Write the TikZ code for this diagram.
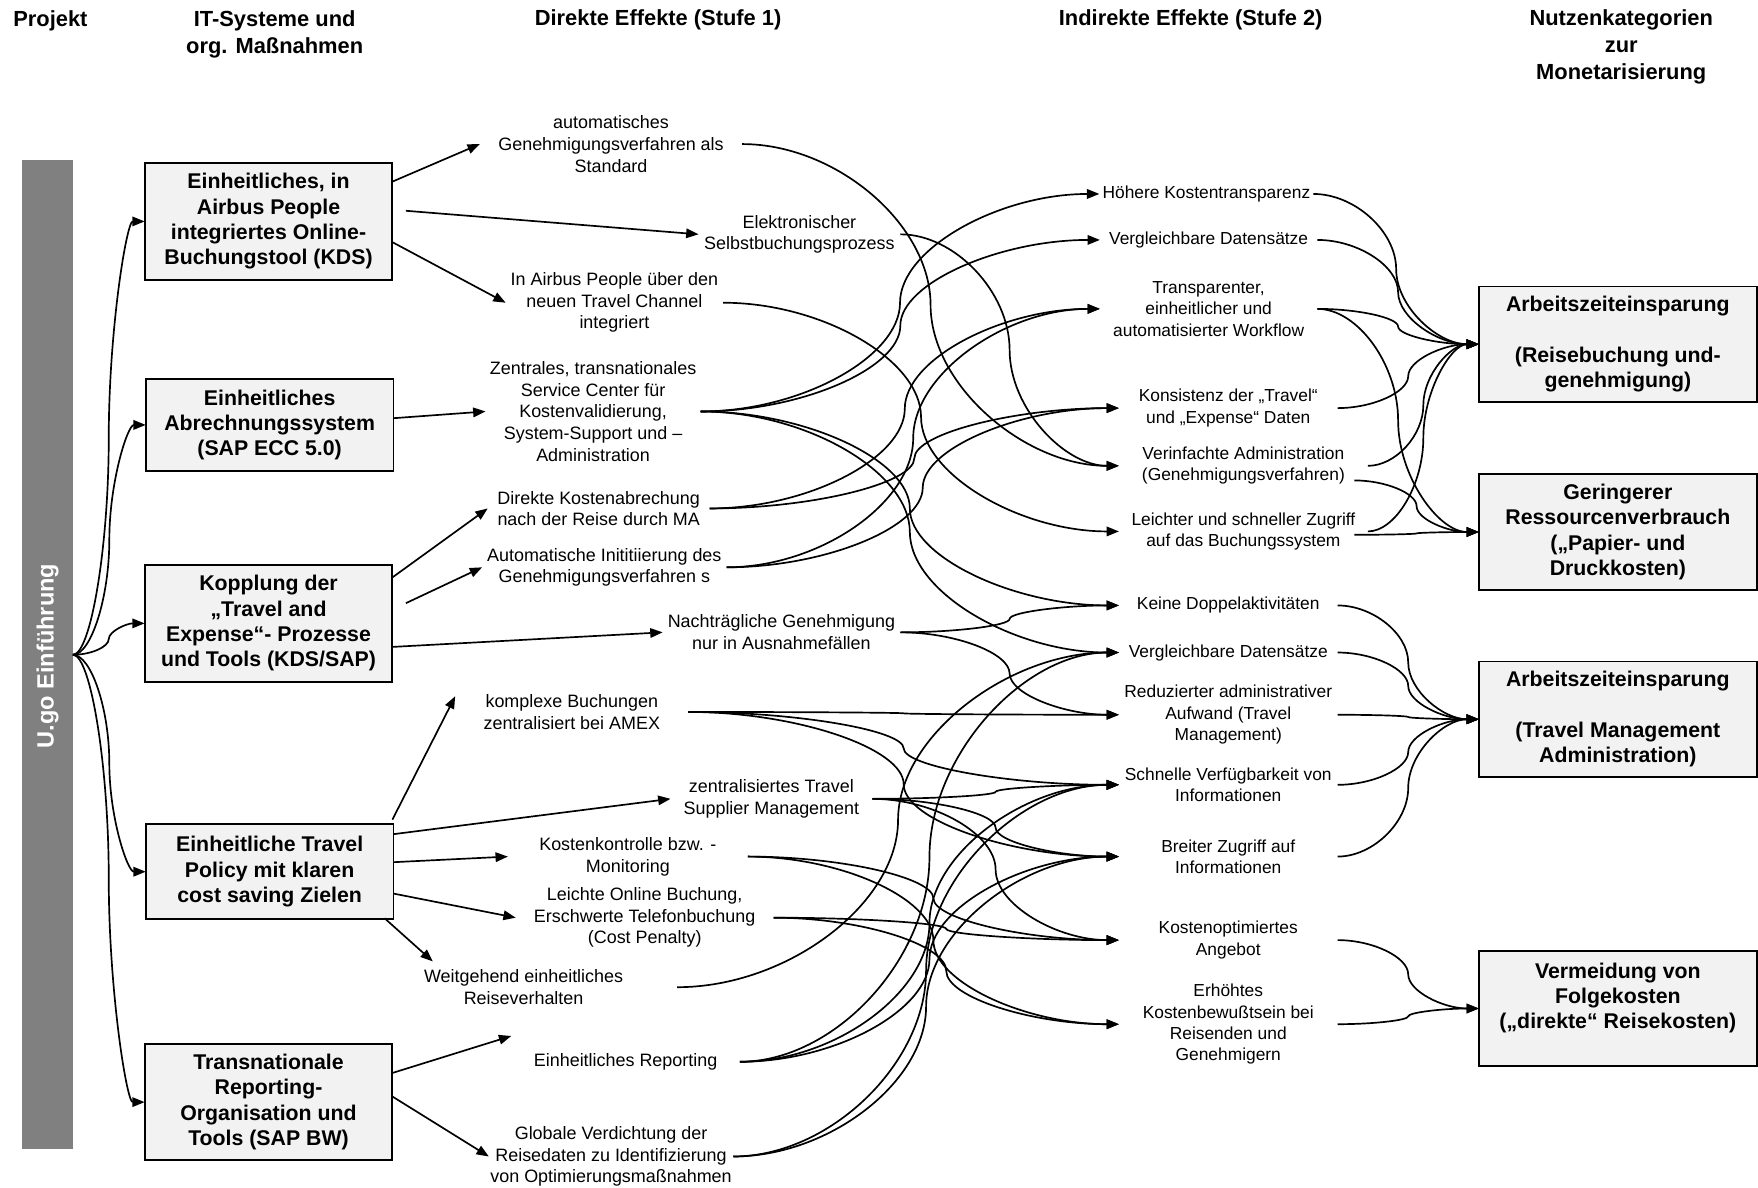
\documentclass[tikz,border=0pt]{standalone}
\usepackage{fontspec}
\setmainfont{Liberation Sans}
\usetikzlibrary{arrows.meta,calc}
\definecolor{boxgray}{HTML}{F2F2F2}
\definecolor{bargray}{HTML}{808080}
\begin{document}
\begin{tikzpicture}[x=1pt,y=-1pt,
  every node/.style={inner sep=0pt,outer sep=0pt},
  box/.style={draw=black,line width=1.7pt,fill=boxgray,align=center,
    minimum width=221pt,font=\fontsize{19}{22.6}\selectfont\bfseries},
  nbox/.style={draw=black,line width=1.7pt,fill=boxgray,align=center,
    minimum width=248pt,minimum height=103pt,font=\fontsize{19}{22.5}\selectfont\bfseries},
  dtxt/.style={align=center,font=\fontsize{16}{19.3}\selectfont},
  itxt/.style={align=center,font=\fontsize{15.5}{19}\selectfont},
  hdr/.style={align=center,font=\fontsize{19.5}{24}\selectfont\bfseries},
  con/.style={line width=1.5pt,-{Triangle[length=11pt,width=8.5pt]}},
  ppc/.style={to path={let \p1=(\tikztostart), \p2=(\tikztotarget) in
    .. controls ({(3*\x1+\x2)/4},\y1) and ({(\x1+\x2)/2},{(3*\y1+\y2)/4}) ..
    ({(\x1+\x2)/2},{(\y1+\y2)/2})
    .. controls ({(\x1+\x2)/2},{(\y1+3*\y2)/4}) and ({(\x1+3*\x2)/4},\y2) ..
    (\tikztotarget) \tikztonodes}},
]
\useasboundingbox (0,0) rectangle (1568,1059);

% headers
\node[hdr] (h1) at (45,19) {Projekt};
\node[hdr] (h2) at (245,31) {IT-Systeme und\\org. Maßnahmen};
\node[hdr] (h3) at (587,18) {Direkte Effekte (Stufe 1)};
\node[hdr] (h4) at (1062,18) {Indirekte Effekte (Stufe 2)};
\node[hdr] (h5) at (1446,42) {Nutzenkategorien\\zur\\Monetarisierung};

% project bar
\node[fill=bargray,minimum width=45pt,minimum height=882pt] (bar) at (42.5,584) {};
\node[rotate=90,text=white,font=\fontsize{21}{25}\selectfont\bfseries] (bartxt) at (42.5,585) {U.go Einführung};

% IT systems
\node[box,minimum height=105pt] (B1) at (239.5,197.5) {Einheitliches, in\\Airbus People\\integriertes Online-\\Buchungstool (KDS)};
\node[box,minimum height=82pt] (B2) at (240.5,379) {Einheitliches\\Abrechnungssystem\\(SAP ECC 5.0)};
\node[box,minimum height=104pt] (B3) at (239.5,556) {Kopplung der\\„Travel and\\Expense“- Prozesse\\und Tools (KDS/SAP)};
\node[box,minimum height=85pt] (B4) at (240.5,777.5) {Einheitliche Travel\\Policy mit klaren\\cost saving Zielen};
\node[box,minimum height=104pt] (B5) at (239.5,983) {Transnationale\\Reporting-\\Organisation und\\Tools (SAP BW)};

% direct effects
\node[dtxt,minimum width=234pt] (D1) at (545,128.5) {automatisches\\Genehmigungsverfahren als\\Standard};
\node[dtxt,minimum width=180pt] (D2) at (713,209) {Elektronischer\\Selbstbuchungsprozess};
\node[dtxt,minimum width=194pt] (D3) at (548,270) {In Airbus People über den\\neuen Travel Channel\\integriert};
\node[dtxt,minimum width=192pt] (D4) at (529,367) {Zentrales, transnationales\\Service Center für\\Kostenvalidierung,\\System-Support und –\\Administration};
\node[dtxt,minimum width=198pt] (D5) at (534,453.5) {Direkte Kostenabrechung\\nach der Reise durch MA};
\node[dtxt,minimum width=218pt] (D6) at (539,506) {Automatische Inititiierung des\\Genehmigungsverfahren s};
\node[dtxt,minimum width=212pt] (D7) at (697,564) {Nachträgliche Genehmigung\\nur in Ausnahmefällen};
\node[dtxt,minimum width=208pt] (D8) at (510,635) {komplexe Buchungen\\zentralisiert bei AMEX};
\node[dtxt,minimum width=180pt] (D9) at (688,712.5) {zentralisiertes Travel\\Supplier Management};
\node[dtxt,minimum width=214pt] (D10) at (560,764) {Kostenkontrolle bzw. -\\Monitoring};
\node[dtxt,minimum width=230pt] (D11) at (575,818.5) {Leichte Online Buchung,\\Erschwerte Telefonbuchung\\(Cost Penalty)};
\node[dtxt,minimum width=274pt] (D12) at (467,880.5) {Weitgehend einheitliches\\Reiseverhalten};
\node[dtxt,minimum width=204pt] (D13) at (558,947) {Einheitliches Reporting};
\node[dtxt,minimum width=218pt] (D14) at (545,1031.5) {Globale Verdichtung der\\Reisedaten zu Identifizierung\\von Optimierungsmaßnahmen};

% indirect effects
\node[itxt,minimum width=191pt] (I1) at (1076,173) {Höhere Kostentransparenz};
\node[itxt,minimum width=194pt] (I2) at (1078,214) {Vergleichbare Datensätze};
\node[itxt,minimum width=194pt] (I3) at (1078,275.5) {Transparenter,\\einheitlicher und\\automatisierter Workflow};
\node[itxt,minimum width=195pt] (I4) at (1095.5,364) {Konsistenz der „Travel“\\und „Expense“ Daten};
\node[itxt,minimum width=222pt] (I5) at (1109,415.5) {Verinfachte Administration\\(Genehmigungsverfahren)};
\node[itxt,minimum width=222pt] (I6) at (1109,474) {Leichter und schneller Zugriff\\auf das Buchungssystem};
\node[itxt,minimum width=195pt] (I7) at (1095.5,540) {Keine Doppelaktivitäten};
\node[itxt,minimum width=195pt] (I8) at (1095.5,582) {Vergleichbare Datensätze};
\node[itxt,minimum width=195pt] (I9) at (1095.5,637.5) {Reduzierter administrativer\\Aufwand (Travel\\Management)};
\node[itxt,minimum width=195pt] (I10) at (1095.5,700) {Schnelle Verfügbarkeit von\\Informationen};
\node[itxt,minimum width=195pt] (I11) at (1095.5,764) {Breiter Zugriff auf\\Informationen};
\node[itxt,minimum width=195pt] (I12) at (1095.5,838.5) {Kostenoptimiertes\\Angebot};
\node[itxt,minimum width=195pt] (I13) at (1095.5,913.5) {Erhöhtes\\Kostenbewußtsein bei\\Reisenden und\\Genehmigern};

% benefit categories
\node[nbox] (N1) at (1443,307) {Arbeitszeiteinsparung\\\mbox{}\\(Reisebuchung und-\\genehmigung)};
\node[nbox] (N2) at (1443,474.5) {Geringerer\\Ressourcenverbrauch\\(„Papier- und\\Druckkosten)};
\node[nbox] (N3) at (1443,641.5) {Arbeitszeiteinsparung\\\mbox{}\\(Travel Management\\Administration)};
\node[nbox] (N4) at (1443,899.5) {Vermeidung von\\Folgekosten\\(„direkte“ Reisekosten)\\\mbox{}};

% bar -> systems
\foreach \b in {B1,B2,B3,B4,B5}
  \draw[con] (bar.east) to[ppc] (\b.west);

% systems -> direct effects
\draw[con] ([yshift=35.5pt]B1.east) -- (D1.west);
\draw[con] ([xshift=12pt,yshift=9.5pt]B1.east) -- (D2.west);
\draw[con] ([yshift=-18.5pt]B1.east) -- (D3.west);
\draw[con] ([yshift=6pt]B2.east) -- (D4.west);
\draw[con] ([yshift=41pt]B3.east) -- (D5.west);
\draw[con] ([xshift=12pt,yshift=18pt]B3.east) -- (D6.west);
\draw[con] ([yshift=-21pt]B3.east) -- (D7.west);
\draw[con] ([xshift=-1pt,yshift=4pt]B4.north east) -- ([yshift=14pt]D8.west);
\draw[con] ([yshift=33.5pt]B4.east) -- (D9.west);
\draw[con] ([yshift=8.5pt]B4.east) -- (D10.west);
\draw[con] ([yshift=-19.5pt]B4.east) -- (D11.west);
\draw[con] ([xshift=-8pt,yshift=1pt]B4.south east) -- ([xshift=-81pt,yshift=23pt]D12.center);
\draw[con] ([yshift=26pt]B5.east) -- ([yshift=23pt]D13.west);
\draw[con] ([yshift=5pt]B5.east) -- (D14.west);

% direct -> indirect
\draw[con] (D1.east) to[ppc] (I5.west);
\draw[con] (D2.east) to[ppc] (I5.west);
\draw[con] (D3.east) to[ppc] (I6.west);
\foreach \t in {I1,I2,I7,I8} \draw[con] (D4.east) to[ppc] (\t.west);
\foreach \t in {I3,I4} \draw[con] (D5.east) to[ppc] (\t.west);
\foreach \t in {I3,I4} \draw[con] (D6.east) to[ppc] (\t.west);
\foreach \t in {I7,I9} \draw[con] (D7.east) to[ppc] (\t.west);
\foreach \t in {I9,I10,I11} \draw[con] (D8.east) to[ppc] (\t.west);
\foreach \t in {I10,I11,I12} \draw[con] (D9.east) to[ppc] (\t.west);
\foreach \t in {I12,I13} \draw[con] (D10.east) to[ppc] (\t.west);
\foreach \t in {I12,I13} \draw[con] (D11.east) to[ppc] (\t.west);
\draw[con] (D12.east) to[ppc] (I8.west);
\foreach \t in {I8,I10,I11} \draw[con] (D13.east) to[ppc] (\t.west);
\foreach \t in {I10,I11} \draw[con] (D14.east) to[ppc] (\t.west);

% indirect -> benefits
\foreach \s in {I1,I2,I3,I4,I5,I6} \draw[con] (\s.east) to[ppc] (N1.west);
\draw[con] (I3.east) to[ppc] (N2.west);
\draw[con] ([xshift=-12pt,yshift=-13pt]I5.east) to[ppc] (N2.west);
\draw[con] ([xshift=-12pt,yshift=-3pt]I6.east) to[ppc] (N2.west);
\foreach \s in {I7,I8,I9,I10,I11} \draw[con] (\s.east) to[ppc] (N3.west);
\foreach \s in {I12,I13} \draw[con] (\s.east) to[ppc] (N4.west);
\end{tikzpicture}
\end{document}
